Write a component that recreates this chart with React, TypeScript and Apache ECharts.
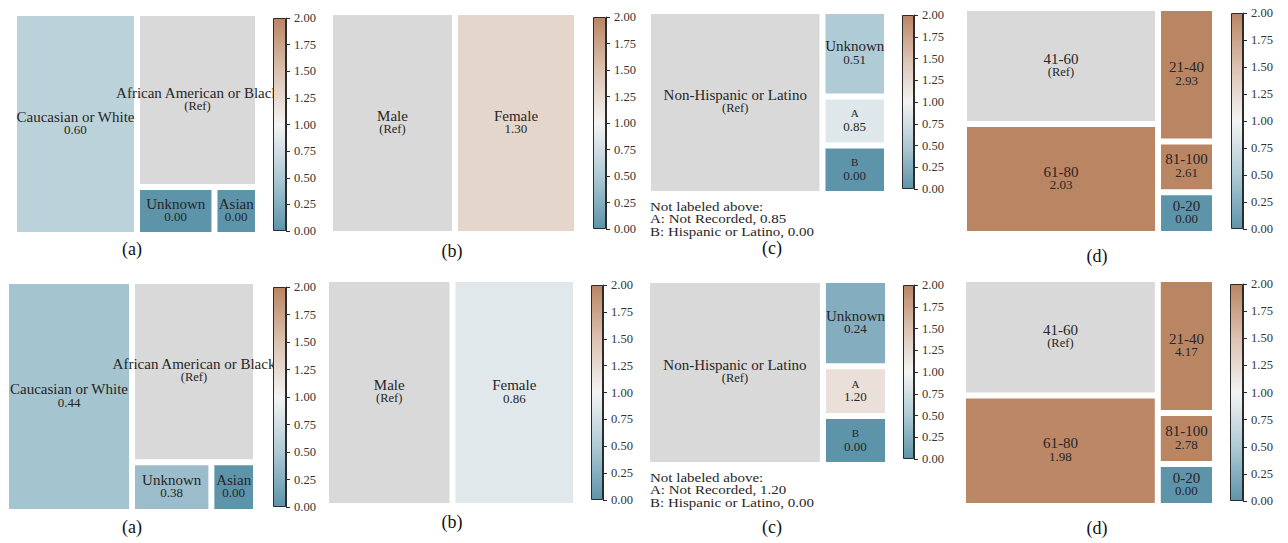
import React, { useEffect, useRef } from "react";
import * as echarts from "echarts";

// ---------- data ----------
const raceNames = ["Caucasian or White", "African American or Black", "Unknown", "Asian"];
const raceSizes = [50.4, 38.9, 6.85, 3.85];
const raceOR1: (number | null)[] = [0.6, null, 0.0, 0.0];
const raceOR2: (number | null)[] = [0.44, null, 0.38, 0.0];

const sexNames = ["Male", "Female"];
const sexSizes = [50.6, 49.4];
const sexOR1: (number | null)[] = [null, 1.3];
const sexOR2: (number | null)[] = [null, 0.86];

const ethNames = ["Non-Hispanic or Latino", "Unknown", "A", "B"];
const ethSizes = [73.0, 12.6, 7.25, 7.15];
const ethOR1: (number | null)[] = [null, 0.51, 0.85, 0.0];
const ethOR2: (number | null)[] = [null, 0.24, 1.2, 0.0];
const ethNote1 = ["Not labeled above:", "A: Not Recorded, 0.85", "B: Hispanic or Latino, 0.00"];
const ethNote2 = ["Not labeled above:", "A: Not Recorded, 1.20", "B: Hispanic or Latino, 0.00"];

const ageNames = ["41-60", "61-80", "21-40", "81-100", "0-20"];
const ageSizes = [39.7, 37.6, 13.4, 5.1, 4.2];
const ageOR1: (number | null)[] = [null, 2.03, 2.93, 2.61, 0.0];
const ageOR2: (number | null)[] = [null, 1.98, 4.17, 2.78, 0.0];

const panelLetters = ["(a)", "(b)", "(c)", "(d)", "(a)", "(b)", "(c)", "(d)"];
const cbMin = 0;
const cbMax = 2;
const cbInterval = 0.25;

// ---------- layout / style ----------
const FONT = '"Liberation Serif", "Times New Roman", serif';
const TXT = "#262626";
const REF_COLOR = "#d9d9d9";
const NAME_LH = 14;
const VAL_LH = 12;
const LABEL_SHIFT = 1.5;

const treeBoxes = [
  [17, 16, 238, 216], [333, 15, 241, 216], [651, 14, 233, 177], [967, 11, 245, 220],
  [9, 284, 244, 225], [329, 282, 244, 221], [650, 283, 235, 179], [966, 282, 246, 221],
];
const cbBoxes = [
  [273, 18, 13, 213], [593, 17, 13, 212], [902, 15, 12, 174], [1231, 13, 12, 216],
  [273, 287, 13, 220], [591, 285, 12, 215], [903, 285, 11, 174], [1230, 284, 13, 217],
];
const letterPos = [
  [132, 249], [452, 251], [772, 248], [1097, 256],
  [132, 527], [452, 522], [772, 527], [1097, 528],
];
const notePos = [[650, 200.5], [650, 471.5]];

// diverging colormap stops (value, rgb)
const cmapStops: [number, number[]][] = [
  [0, [93, 148, 170]],
  [0.5, [174, 202, 213]],
  [1, [243, 243, 243]],
  [1.5, [220, 194, 177]],
  [2, [186, 133, 99]],
];

function cmap(v: number): string {
  const x = Math.max(cbMin, Math.min(cbMax, v));
  for (let i = 0; i < cmapStops.length - 1; i++) {
    const [a, ca] = cmapStops[i];
    const [b, cb] = cmapStops[i + 1];
    if (x <= b) {
      const t = (x - a) / (b - a);
      const c = ca.map((q, j) => Math.round(q + (cb[j] - q) * t));
      return `rgb(${c[0]},${c[1]},${c[2]})`;
    }
  }
  const c = cmapStops[cmapStops.length - 1][1];
  return `rgb(${c[0]},${c[1]},${c[2]})`;
}

function makeData(names: string[], sizes: number[], ors: (number | null)[]) {
  return names.map((n, i) => ({
    name: n,
    value: sizes[i],
    or: ors[i],
    itemStyle: { color: ors[i] == null ? REF_COLOR : cmap(ors[i] as number) },
  }));
}

const panels = [
  makeData(raceNames, raceSizes, raceOR1),
  makeData(sexNames, sexSizes, sexOR1),
  makeData(ethNames, ethSizes, ethOR1),
  makeData(ageNames, ageSizes, ageOR1),
  makeData(raceNames, raceSizes, raceOR2),
  makeData(sexNames, sexSizes, sexOR2),
  makeData(ethNames, ethSizes, ethOR2),
  makeData(ageNames, ageSizes, ageOR2),
];

function buildOption() {
  const series: any[] = [];
  const grid: any[] = [];
  const xAxis: any[] = [];
  const yAxis: any[] = [];
  const graphic: any[] = [];

  panels.forEach((data, k) => {
    const [l, t, w, h] = treeBoxes[k];
    series.push({
      type: "treemap",
      left: l,
      top: t,
      width: w,
      height: h,
      squareRatio: 1,
      roam: false,
      nodeClick: false,
      silent: true,
      breadcrumb: { show: false },
      upperLabel: { show: false },
      itemStyle: { borderWidth: 0, gapWidth: 6, borderColor: "#fff" },
      levels: [{ itemStyle: { borderWidth: 0, gapWidth: 6, borderColor: "#fff" } }],
      label: {
        show: true,
        position: "inside",
        align: "center",
        verticalAlign: "top",
        padding: 0,
        overflow: "none",
        color: TXT,
        fontFamily: FONT,
        formatter: (p: any) => {
          const d = p.data;
          const nameKey = d.name.length === 1 ? "s" : "n";
          const valKey = d.or == null ? "r" : "v";
          const valTxt = d.or == null ? "(Ref)" : (d.or as number).toFixed(2);
          return `{${nameKey}|${d.name}}\n{${valKey}|${valTxt}}`;
        },
        rich: {
          n: { fontSize: 15, lineHeight: NAME_LH, fontFamily: FONT, color: TXT, align: "center" },
          s: { fontSize: 11, lineHeight: NAME_LH, fontFamily: FONT, color: TXT, align: "center" },
          v: { fontSize: 13, lineHeight: VAL_LH, fontFamily: FONT, color: TXT, align: "center" },
          r: { fontSize: 12.5, lineHeight: VAL_LH, fontFamily: FONT, color: TXT, align: "center" },
        },
      },
      labelLayout: (params: any) => {
        const r = params.rect;
        return {
          x: r.x + r.width / 2,
          y: r.y + r.height / 2 - (NAME_LH + VAL_LH) / 2 - LABEL_SHIFT,
          align: "center",
          verticalAlign: "top",
        };
      },
      data,
    });

    const [cl, ct, cw, ch] = cbBoxes[k];
    grid.push({ left: cl, top: ct, width: cw, height: ch, containLabel: false });
    xAxis.push({ gridIndex: k, type: "category", data: ["OR"], show: false });
    yAxis.push({
      gridIndex: k,
      type: "value",
      position: "right",
      min: cbMin,
      max: cbMax,
      interval: cbInterval,
      axisLine: { show: true, lineStyle: { color: "#2b2b2b", width: 1 } },
      axisTick: { show: true, length: 4, lineStyle: { color: "#2b2b2b" } },
      axisLabel: {
        formatter: (v: number) => v.toFixed(2),
        fontFamily: FONT,
        fontSize: 12.5,
        color: "#333",
        margin: 8,
      },
      splitLine: { show: false },
    });
    series.push({
      type: "bar",
      xAxisIndex: k,
      yAxisIndex: k,
      data: [cbMax],
      barWidth: "100%",
      z: 5,
      silent: true,
      itemStyle: {
        borderColor: "#2b2b2b",
        borderWidth: 1,
        color: new echarts.graphic.LinearGradient(
          0, 1, 0, 0,
          cmapStops.map(([v]) => ({ offset: (v - cbMin) / (cbMax - cbMin), color: cmap(v) }))
        ),
      },
    });

    const [lx, ly] = letterPos[k];
    graphic.push({
      type: "text",
      x: lx,
      y: ly,
      silent: true,
      style: {
        text: panelLetters[k],
        fontSize: 18,
        fontFamily: FONT,
        fill: "#111",
        align: "center",
        verticalAlign: "middle",
        textAlign: "center",
        textVerticalAlign: "middle",
      },
    });
  });

  [ethNote1, ethNote2].forEach((lines, i) => {
    const [nx, ny] = notePos[i];
    graphic.push({
      type: "text",
      x: nx,
      y: ny,
      scaleX: 1.2,
      silent: true,
      style: {
        text: lines.join("\n"),
        fontSize: 12.5,
        lineHeight: 12.5,
        fontFamily: FONT,
        fill: TXT,
        align: "left",
        verticalAlign: "top",
        textAlign: "left",
        textVerticalAlign: "top",
      },
    });
  });

  return {
    animation: false,
    backgroundColor: "#fff",
    tooltip: { show: false },
    grid,
    xAxis,
    yAxis,
    series,
    graphic,
  };
}

export default function App() {
  const ref = useRef<HTMLDivElement>(null);
  useEffect(() => {
    if (!ref.current) return;
    const chart = echarts.init(ref.current, undefined, { renderer: "svg" });
    chart.setOption(buildOption() as any);
    return () => chart.dispose();
  }, []);
  return (
    <div
      ref={ref}
      style={{ position: "absolute", left: 0, top: 0, width: 1288, height: 543 }}
    />
  );
}
